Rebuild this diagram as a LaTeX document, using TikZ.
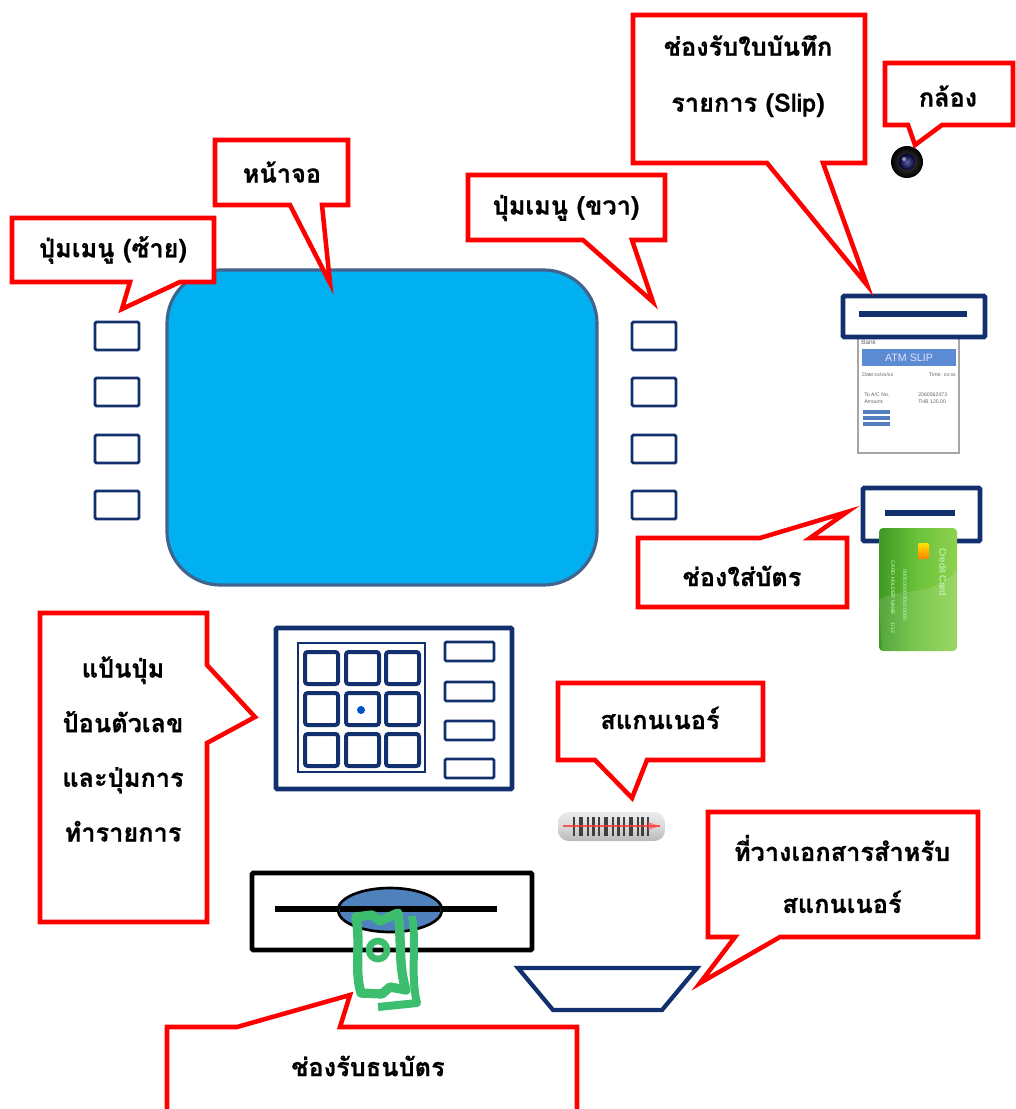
\documentclass[tikz,border=0pt]{standalone}
\usepackage{fontspec}
\newfontfamily\thai[Script=Thai,BoldFeatures={FakeBold=0.6}]{Loma}
\newfontfamily\slipfont{Liberation Sans}
\begin{document}
\definecolor{calred}{HTML}{FF0000}
\definecolor{navy}{HTML}{12306E}
\definecolor{screenblue}{HTML}{00B0F0}
\definecolor{screenedge}{HTML}{41648F}
\definecolor{slipblue}{HTML}{5B8BD3}
\definecolor{cashgreen}{HTML}{3DBE6E}
\definecolor{ovalblue}{HTML}{4F81BD}
\definecolor{carddark}{HTML}{3F9A24}
\definecolor{cardmid}{HTML}{6CC23A}
\definecolor{cardlight}{HTML}{8FD14F}
\begin{tikzpicture}[x=0.75pt,y=-0.75pt,
  callout/.style={draw=calred,line width=3.4pt,fill=white,line join=miter},
  lbl/.style={font={\thai\bfseries\fontsize{19}{22}\selectfont},text=black,inner sep=0pt},
  mlbl/.style={lbl,align=center,font={\thai\bfseries\fontsize{19}{41}\selectfont}},
  sidekey/.style={draw=navy,line width=2.2pt,fill=white,rounded corners=1pt},
  padkey/.style={draw=navy,line width=3pt,fill=white,rounded corners=2pt},
  slot/.style={draw=navy,line width=3.6pt,fill=white,rounded corners=1pt},
  slotbar/.style={draw=navy,line width=4.5pt},
  tiny/.style={font=\slipfont\fontsize{3.9}{4}\selectfont,text=gray!80!black,inner sep=0pt}]
\useasboundingbox (0,0) rectangle (1016,1109);

% ---------- screen ----------
\draw[fill=screenblue,draw=screenedge,line width=2.4pt,rounded corners=40pt]
  (167,270) rectangle (597,585);

% ---------- side menu keys ----------
\foreach \yy in {322,378,435,491}{
  \draw[sidekey] (95,\yy) rectangle (139,\yy+28);
  \draw[sidekey] (632,\yy) rectangle (676,\yy+28);
}

% ---------- slip slot and slip ----------
\draw[draw=gray!70,line width=0.8pt,fill=white] (858,334) rectangle (959,453);
\draw[slot] (843,296) rectangle (985,337);
\draw[slotbar] (859,314) -- (967,314);
\node[tiny,anchor=west,font=\slipfont\fontsize{4.8}{5}\selectfont] (slipbank) at (861,342) {Bank};
\fill[slipblue] (862,349) rectangle (956,366);
\node[font=\slipfont\fontsize{8}{9}\selectfont,text=white!88!blue,inner sep=0pt] (sliptitle) at (909,357.5) {ATM SLIP};
\node[tiny,anchor=west] (slipdate) at (862,375) {Date:xx/xx/xx};
\node[tiny,anchor=east] (sliptime) at (956,375) {Time: xx:xx};
\node[tiny,anchor=west] (slipacc) at (864,395) {To A/C No.};
\node[tiny,anchor=west] (slipaccno) at (918,395) {2060562473};
\node[tiny,anchor=west] (slipamt) at (864,402) {Amount:};
\node[tiny,anchor=west] (slipamtval) at (918,402) {THB 125.00};
\foreach \yy in {410,416,422}{
  \fill[slipblue!90!black] (863,\yy) rectangle (890,\yy+4);
}

% ---------- card slot and card ----------
\draw[slot] (863,488) rectangle (980,541);
\draw[slotbar] (885,513) -- (955,513);
\shade[left color=carddark,right color=cardlight,middle color=cardmid,rounded corners=3pt]
  (879,528) rectangle (957,651);
\fill[white,opacity=0.12] (879,600) .. controls (905,585) and (930,600) .. (957,570) -- (957,651) -- (882,651) -- cycle;
\shade[top color=yellow!80!orange,bottom color=orange,rounded corners=1pt] (918,543) rectangle (929,559);
\node[rotate=-90,font=\slipfont\fontsize{7}{8}\selectfont,text=white!80!green,inner sep=0pt] (cardname) at (943,572) {Credit Card};
\node[rotate=-90,tiny,text=white!75!green] (cardnum) at (905,595) {0000 0000 0000 0000};
\node[rotate=-90,tiny,text=white!75!green] (cardholder) at (893,588) {CARD HOLDER NAME};
\node[rotate=-90,tiny,text=white!75!green] (cardexp) at (893,628) {1/12};

% ---------- camera ----------
\shade[inner color=gray!60!black,outer color=black] (907,162) circle[radius=16];
\shade[inner color=blue!25!gray,outer color=blue!20!black] (907,162) circle[radius=8];
\fill[white,opacity=0.5] (904,159) circle[radius=2];

% ---------- keypad ----------
\draw[draw=navy,line width=3.6pt,fill=white,rounded corners=1pt] (276,628) rectangle (512,789);
\draw[draw=navy,line width=0.8pt] (298,643) rectangle (425,772);
\foreach \xx in {305,346,386}{
  \foreach \yy in {652,693,734}{
    \draw[padkey] (\xx,\yy) rectangle (\xx+33,\yy+32);
  }
}
\fill[blue!60!cyan!80!black] (361,710) circle[radius=4];
\foreach \yy in {642,682,721,759}{
  \draw[sidekey,line width=2pt] (445,\yy) rectangle (494,\yy+19);
}

% ---------- scanner ----------
\shade[top color=gray!15,bottom color=gray!55,middle color=gray!30,rounded corners=8pt]
  (558,812) rectangle (665,841);
\foreach \xx/\ww in {573/2,579/4,587/2,592/3,598/2,604/4,612/2,617/3,623/2,629/4,637/2,641/3,647/2}{
  \fill[black!75] (\xx,817) rectangle (\xx+\ww,836);
}
\draw[red!80!white,line width=1pt,opacity=0.8] (563,826) -- (660,826);
\fill[red!70!white,opacity=0.6] (648,822) -- (660,826) -- (648,830) -- cycle;

% ---------- cash dispenser ----------
\draw[line width=3.6pt,fill=white,rounded corners=1pt] (252,873) rectangle (532,950);
\draw[line width=5pt] (275,909) -- (497,909);
\draw[fill=ovalblue,line width=2pt] (390,910) ellipse[x radius=52,y radius=22];
\draw[line width=5pt] (340,909) -- (440,909);
% bank note
\draw[cashgreen,line width=6pt,line join=round] (412,916) .. controls (417,945) and (410,975) .. (417,1003) -- (378,1007);
\draw[cashgreen,line width=7pt,line join=round]
  (356,917) -- (372,915) -- (380,921) -- (398,913) .. controls (402,940) and (398,965) .. (406,990)
  -- (390,987) -- (382,994) -- (361,993) .. controls (354,970) and (361,945) .. cycle;
\draw[cashgreen,line width=5pt] (378,950) circle[radius=9];

% ---------- document holder ----------
\draw[draw=navy,line width=3.2pt,fill=white,line join=miter] (518,968) -- (697,968) -- (662,1010) -- (553,1010) -- cycle;

% ---------- callouts ----------
% left menu keys
\draw[callout] (12,218) -- (214,218) -- (214,282) -- (180,282) -- (122,309) -- (130,282) -- (12,282) -- cycle;
\node[lbl] (tLeft) at (113,250) {ปุ่มเมนู (ซ้าย)};
% screen
\draw[callout] (215,140) -- (348,140) -- (348,205) -- (322,205) -- (330,283) -- (290,205) -- (215,205) -- cycle;
\node[lbl] (tScreen) at (282,172) {หน้าจอ};
% right menu keys
\draw[callout] (468,175) -- (665,175) -- (665,240) -- (632,240) -- (653,302) -- (583,240) -- (468,240) -- cycle;
\node[lbl] (tRight) at (566,208) {ปุ่มเมนู (ขวา)};
% slip
\draw[callout] (633,15) -- (865,15) -- (865,163) -- (823,163) -- (867,285) -- (767,163) -- (633,163) -- cycle;
\node[mlbl,font={\thai\bfseries\fontsize{19}{42}\selectfont}] (tSlip) at (748,76) {ช่องรับใบบันทึก\\รายการ (Slip)};
% camera
\draw[callout] (885,63) -- (1013,63) -- (1013,125) -- (942,125) -- (915,145) -- (908,125) -- (885,125) -- cycle;
\node[lbl] (tCam) at (948,96) {กล้อง};
% card slot
\draw[callout] (638,538) -- (760,538) -- (847,512) -- (810,538) -- (847,538) -- (847,607) -- (638,607) -- cycle;
\node[lbl] (tCard) at (742,576) {ช่องใส่บัตร};
% keypad
\draw[callout] (40,613) -- (207,613) -- (207,665) -- (255,717) -- (207,743) -- (207,922) -- (40,922) -- cycle;
\node[mlbl] (tPad) at (123,749) {แป้นปุ่ม\\ป้อนตัวเลข\\และปุ่มการ\\ทำรายการ};
% scanner
\draw[callout] (558,683) -- (763,683) -- (763,760) -- (647,760) -- (632,798) -- (595,760) -- (558,760) -- cycle;
\node[lbl] (tScan) at (660,718) {สแกนเนอร์};
% document holder
\draw[callout] (708,812) -- (978,812) -- (978,937) -- (780,937) -- (700,983) -- (735,937) -- (708,937) -- cycle;
\node[mlbl,font={\thai\bfseries\fontsize{19}{39}\selectfont}] (tDoc) at (842,874) {ที่วางเอกสารสำหรับ\\สแกนเนอร์};
% cash slot
\draw[callout] (167,1027) -- (237,1027) -- (350,995) -- (340,1027) -- (577,1027) -- (577,1115) -- (167,1115) -- cycle;
\node[lbl] (tCash) at (368,1066) {ช่องรับธนบัตร};
\end{tikzpicture}
\end{document}
